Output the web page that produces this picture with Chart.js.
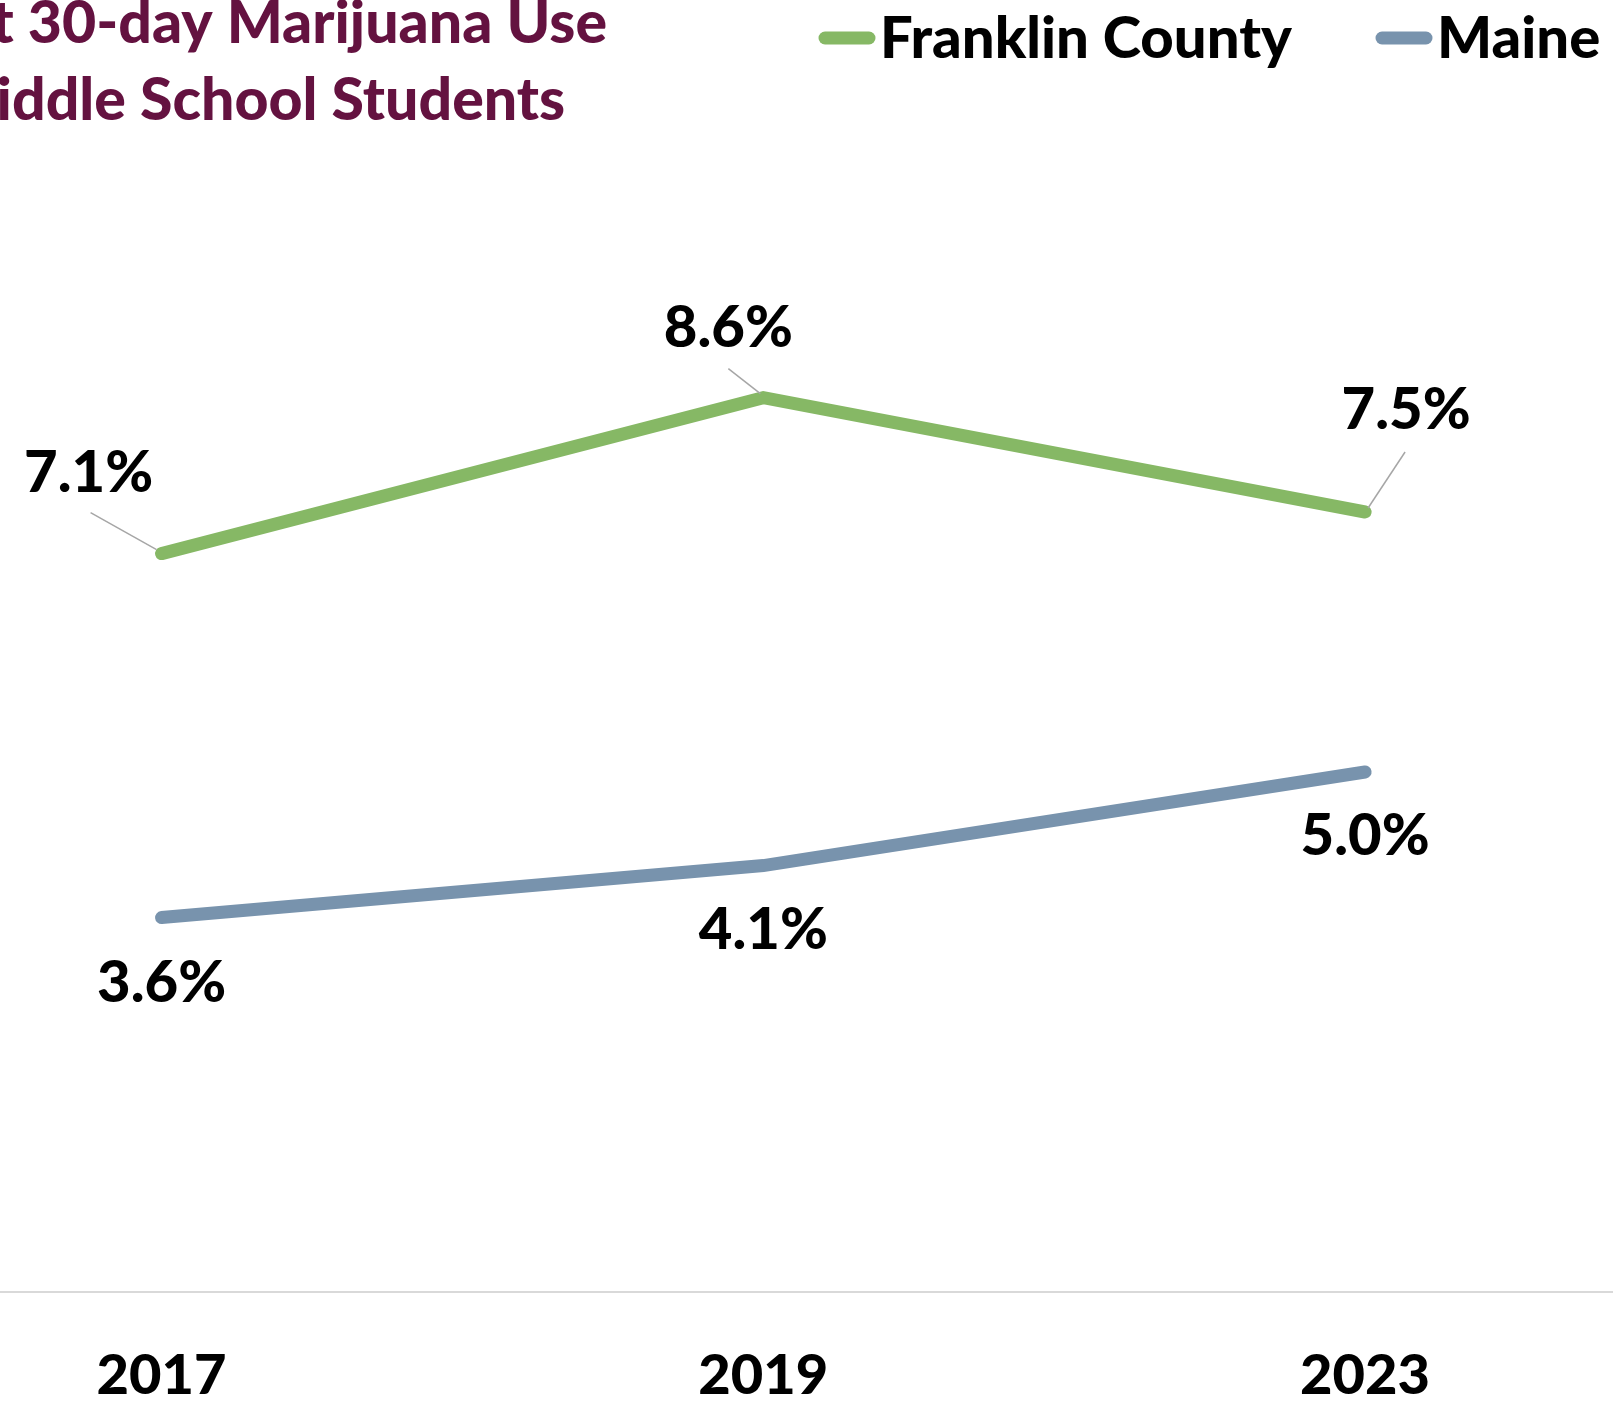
<!DOCTYPE html>
<html lang="en">
<head>
    <meta charset="UTF-8">
    <title>Past 30-day Marijuana Use</title>
    <script src="https://cdn.jsdelivr.net/npm/chart.js"></script>
    <style>
        body { margin: 0; background: #ffffff; }
        #grafico { display: block; }
    </style>
</head>
<body>
    <canvas id="grafico" width="1613" height="1403"></canvas>
<script>
    // dados
    const anos = ['2017', '2019', '2023'];
    const franklin = [7.1, 8.6, 7.5];
    const maine = [3.6, 4.1, 5.0];
    const nomesSeries = ['Franklin County', 'Maine'];
    const tituloLinhas = ['Past 30-day Marijuana Use', 'Middle School Students'];

    const fonte = 'Lato, "Open Sans", sans-serif';
    const peso = '900';

    // posição dos rótulos em relação ao ponto (dx do centro, dy da linha de base)
    const posRotulos = [
        [{ dx: -73, dy: -62, guia: [-71, -41, -5, -4] },
         { dx: -35, dy: -51, guia: [-35, -29, -3, -4] },
         { dx: 41, dy: -83, guia: [40, -60, 3, -4] }],
        [{ dx: 0, dy: 84 }, { dx: 0, dy: 83 }, { dx: 0, dy: 83 }]
    ];

    const pluginTextos = {
        id: 'textos',
        afterDatasetsDraw(chart) {
            const ctx = chart.ctx;
            ctx.save();
            // rótulos de dados
            chart.data.datasets.forEach(function (ds, i) {
                const meta = chart.getDatasetMeta(i);
                meta.data.forEach(function (pt, j) {
                    const p = posRotulos[i][j];
                    if (p.guia) {
                        ctx.strokeStyle = '#A6A6A6';
                        ctx.lineWidth = 1.5;
                        ctx.beginPath();
                        ctx.moveTo(pt.x + p.guia[0], pt.y + p.guia[1]);
                        ctx.lineTo(pt.x + p.guia[2], pt.y + p.guia[3]);
                        ctx.stroke();
                    }
                    ctx.fillStyle = '#000000';
                    ctx.font = peso + ' 58px ' + fonte;
                    ctx.textAlign = 'center';
                    ctx.textBaseline = 'alphabetic';
                    ctx.fillText(ds.data[j].y.toFixed(1) + '%', pt.x + p.dx, pt.y + p.dy);
                });
            });

            // título (centralizado, cortado à esquerda como no original)
            ctx.font = peso + ' 59px ' + fonte;
            ctx.fillStyle = '#641240';
            ctx.textAlign = 'center';
            const w1 = ctx.measureText(tituloLinhas[0]).width;
            const centro = 607 - w1 / 2;
            ctx.fillText(tituloLinhas[0], centro, 43);
            ctx.fillText(tituloLinhas[1], centro, 120);

            // legenda
            const legX = [818, 1375];
            chart.data.datasets.forEach(function (ds, i) {
                ctx.strokeStyle = ds.borderColor;
                ctx.lineWidth = 13;
                ctx.lineCap = 'round';
                ctx.beginPath();
                ctx.moveTo(legX[i] + 7, 38);
                ctx.lineTo(legX[i] + 51, 38);
                ctx.stroke();
                ctx.fillStyle = '#000000';
                ctx.font = peso + ' 58px ' + fonte;
                ctx.textAlign = 'left';
                ctx.fillText(ds.label, legX[i] + 62, 58);
            });
            ctx.restore();
        }
    };

    const dados = {
        datasets: [{
            label: nomesSeries[0],
            data: franklin.map(function (v, i) { return { x: i, y: v }; }),
            borderColor: '#86B865',
            backgroundColor: '#86B865',
            borderWidth: 13,
            borderCapStyle: 'round',
            borderJoinStyle: 'miter',
            pointRadius: 0,
            tension: 0,
            clip: false
        },
        {
            label: nomesSeries[1],
            data: maine.map(function (v, i) { return { x: i, y: v }; }),
            borderColor: '#7893AD',
            backgroundColor: '#7893AD',
            borderWidth: 13,
            borderCapStyle: 'round',
            borderJoinStyle: 'miter',
            pointRadius: 0,
            tension: 0,
            clip: false
        }]
    };

    const config = {
        type: 'line',
        data: dados,
        plugins: [pluginTextos],
        options: {
            responsive: false,
            animation: false,
            layout: { padding: { top: 44, left: 0, right: 0, bottom: 0 } },
            plugins: {
                legend: { display: false },
                title: { display: false },
                tooltip: { enabled: false }
            },
            scales: {
                x: {
                    type: 'linear',
                    min: -0.2685,
                    max: 2.412,
                    grid: { display: false },
                    border: { display: true, color: '#D9D9D9', width: 2 },
                    afterBuildTicks: function (scale) {
                        scale.ticks = anos.map(function (a, i) { return { value: i }; });
                    },
                    afterFit: function (scale) { scale.height = 111; },
                    ticks: {
                        autoSkip: false,
                        maxRotation: 0,
                        padding: 42,
                        color: '#000000',
                        font: { family: fonte, weight: peso, size: 56 },
                        callback: function (v) { return anos[v]; }
                    }
                },
                y: {
                    display: false,
                    min: 0,
                    max: 12
                }
            }
        }
    };

    let myChart = new Chart(document.getElementById('grafico'), config);
</script>
</body>
</html>
